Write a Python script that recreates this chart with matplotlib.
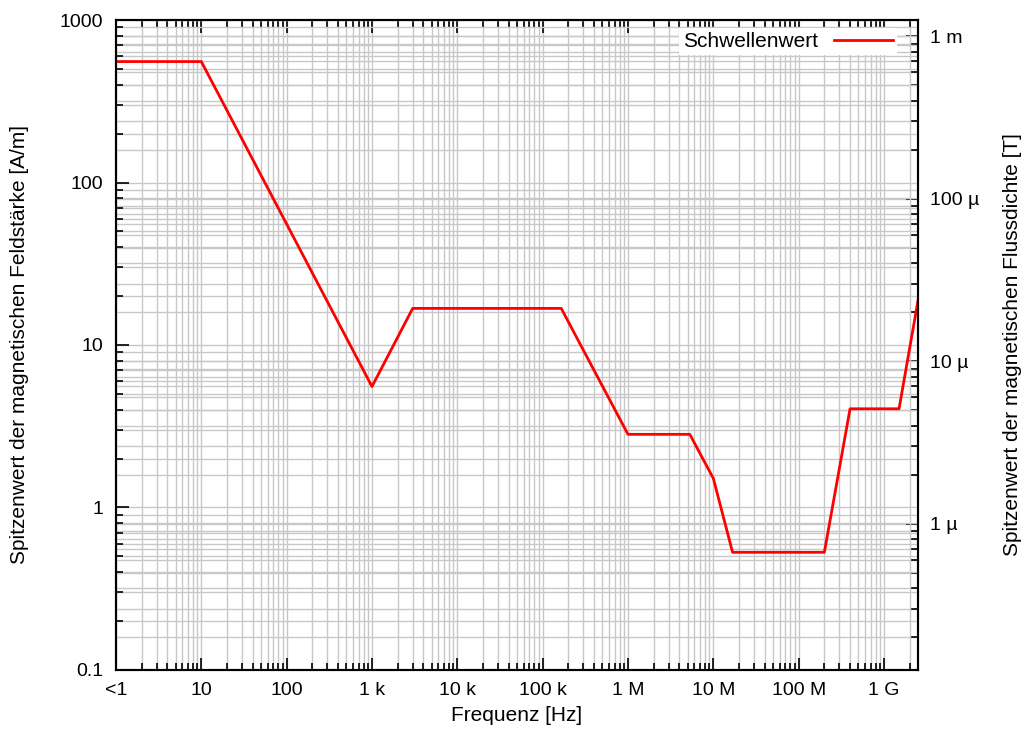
import numpy as np
import matplotlib
matplotlib.use("Agg")
import matplotlib.pyplot as plt
from matplotlib.ticker import FixedLocator, LogLocator, NullFormatter

plt.rcParams['font.family'] = ['Liberation Sans', 'DejaVu Sans']

# Schwellenwert (peak H field)
freq = [1, 10, 1000, 3000, 1.65e5, 1e6, 5.3e6, 1e7, 1.68e7, 2.0e8, 4.0e8, 1.5e9, 2.5e9]
h_peak = [555, 555, 5.55, 16.8, 16.8, 2.82, 2.82, 1.51, 0.53, 0.53, 4.05, 4.05, 18.7]

x_ticks = [1, 10, 100, 1e3, 1e4, 1e5, 1e6, 1e7, 1e8, 1e9]
x_labels = ['<1', '10', '100', '1 k', '10 k', '100 k', '1 M', '10 M', '100 M', '1 G']
y_ticks = [0.1, 1, 10, 100, 1000]
y_labels = ['0.1', '1', '10', '100', '1000']
b_ticks = [1e-6, 1e-5, 1e-4, 1e-3]
b_labels = ['1 µ', '10 µ', '100 µ', '1 m']

mu0 = 4e-7 * np.pi
xlim = (1, 2.5e9)
ylim = (0.1, 1000)

fig = plt.figure(figsize=(10.29, 7.36), dpi=100)
ax = fig.add_axes([0.1127, 0.0897, 0.8921 - 0.1127, 0.9728 - 0.0897])
ax2 = ax.twinx()
ax.set_zorder(ax2.get_zorder() + 1)
ax.patch.set_visible(False)

ax.plot(freq, h_peak, color='#ff0000', lw=2, label='Schwellenwert')

ax.set_xscale('log')
ax.set_yscale('log')
ax.set_xlim(*xlim)
ax.set_ylim(*ylim)
ax.xaxis.set_major_locator(FixedLocator(x_ticks))
ax.set_xticklabels(x_labels)
ax.xaxis.set_minor_locator(LogLocator(base=10, subs=np.arange(2, 10), numticks=30))
ax.xaxis.set_minor_formatter(NullFormatter())
ax.yaxis.set_major_locator(FixedLocator(y_ticks))
ax.set_yticklabels(y_labels)
ax.yaxis.set_minor_locator(LogLocator(base=10, subs=np.arange(2, 10), numticks=30))
ax.yaxis.set_minor_formatter(NullFormatter())

ax2.set_yscale('log')
ax2.set_ylim(ylim[0] * mu0, ylim[1] * mu0)
ax2.yaxis.set_major_locator(FixedLocator(b_ticks))
ax2.set_yticklabels(b_labels)
ax2.yaxis.set_minor_locator(LogLocator(base=10, subs=np.arange(2, 10), numticks=30))
ax2.yaxis.set_minor_formatter(NullFormatter())

grid_kw = dict(color='#c8c8c8', lw=1)
ax.grid(True, which='both', axis='both', **grid_kw)
ax2.grid(True, which='both', axis='y', **grid_kw)

ax.tick_params(which='both', direction='in', top=True, right=False, labelsize=14, width=1.2)
ax.tick_params(which='major', length=9, pad=9)
ax.tick_params(which='minor', length=5)
ax2.tick_params(which='both', direction='in', labelsize=14, width=1.2, color='black')
ax2.tick_params(which='major', length=9, pad=9)
ax2.tick_params(which='minor', length=5)

for sp in ax.spines.values():
    sp.set_linewidth(1.5)
for sp in ax2.spines.values():
    sp.set_linewidth(1.5)

ax.set_xlabel('Frequenz [Hz]', fontsize=15, labelpad=5)
ax.set_ylabel('Spitzenwert der magnetischen Feldstärke [A/m]', fontsize=15, labelpad=22)
ax2.set_ylabel('Spitzenwert der magnetischen Flussdichte [T]', fontsize=15, labelpad=17)

leg = ax.legend(loc='upper right', bbox_to_anchor=(0.979, 0.994), markerfirst=False,
                frameon=True, fontsize=15, handlelength=2.8, borderaxespad=0.2,
                borderpad=0.2, fancybox=False)
leg.get_frame().set_edgecolor('none')
leg.get_frame().set_facecolor('white')
leg.get_frame().set_alpha(1)

fig.savefig('out.png', dpi=100)
